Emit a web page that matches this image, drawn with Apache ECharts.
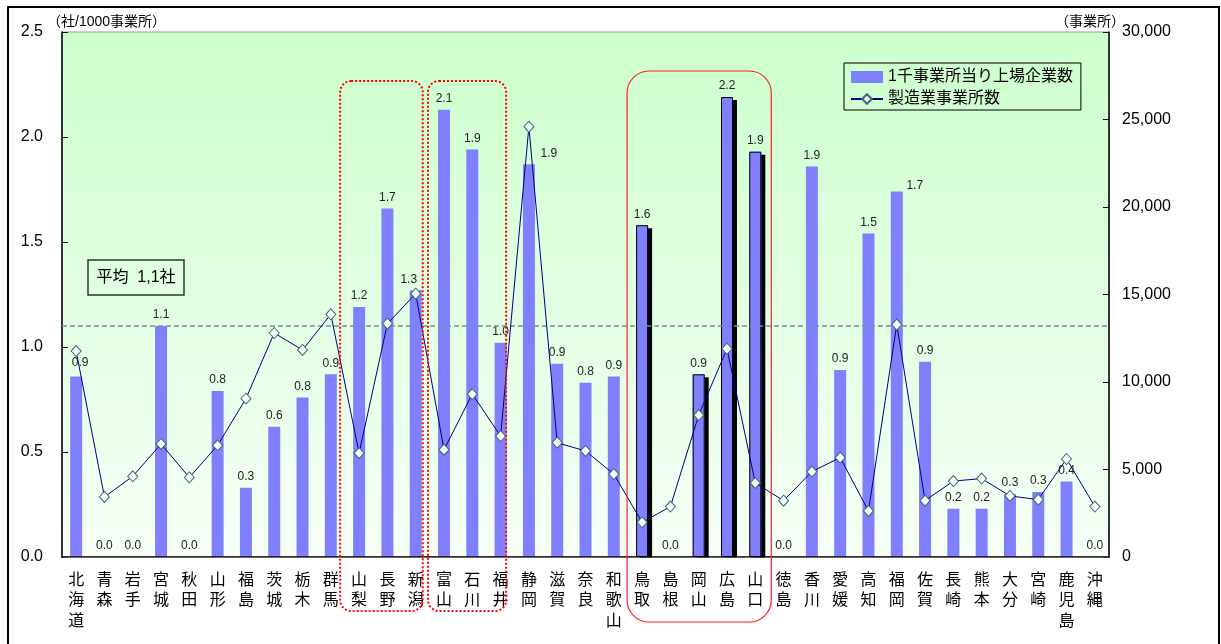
<!DOCTYPE html>
<html>
<head>
<meta charset="utf-8">
<script src="https://cdn.jsdelivr.net/npm/echarts@6/dist/echarts.min.js"></script>
<style>
  html, body { margin: 0; padding: 0; background: #fff; }
  #chart { width: 1221px; height: 644px; }
</style>
</head>
<body>
<div id="chart"></div>
<script>
// Prefectures shown along the category axis
const categories = ['北海道','青森','岩手','宮城','秋田','山形','福島','茨城','栃木','群馬',
  '山梨','長野','新潟','富山','石川','福井','静岡','滋賀','奈良','和歌山',
  '鳥取','島根','岡山','広島','山口','徳島','香川','愛媛','高知','福岡',
  '佐賀','長崎','熊本','大分','宮崎','鹿児島','沖縄'];

// Listed companies per 1,000 manufacturing establishments (left axis)
const listedPerThousand = [0.86, 0, 0, 1.10, 0, 0.79, 0.33, 0.62, 0.76, 0.87,
  1.19, 1.66, 1.27, 2.13, 1.94, 1.02, 1.87, 0.92, 0.83, 0.86,
  1.58, 0, 0.87, 2.19, 1.93, 0, 1.86, 0.89, 1.54, 1.74,
  0.93, 0.23, 0.23, 0.30, 0.31, 0.36, 0];

// Number of manufacturing establishments (right axis)
const establishments = [11770, 3430, 4610, 6460, 4550, 6380, 9050, 12800, 11830, 13870,
  5940, 13330, 15050, 6130, 9310, 6910, 24590, 6530, 6060, 4740,
  1980, 2880, 8110, 11900, 4230, 3220, 4880, 5680, 2630, 13280,
  3220, 4340, 4480, 3490, 3280, 5600, 2880];

// National average (companies per 1,000 establishments)
const averageValue = 1.1;

// Axis ticks
const leftTicks = { min: 0, max: 2.5, interval: 0.5 };
const rightTicks = { min: 0, max: 30000, interval: 5000 };

// Chugoku region bars drawn with an outline and drop shadow
const chugoku = ['鳥取','島根','岡山','広島','山口'];

// Groups enclosed by rounded frames
const hokurikuKoshin = ['山梨','新潟'];
const hokuriku = ['富山','福井'];
const chugokuRange = ['鳥取','山口'];

// Small label shifts where a label would sit on the line
const labelNudge = { '北海道': [4, -3], '新潟': [-7, 0], '静岡': [20, 0], '福岡': [18, 5] };

const BAR_NAME = '1千事業所当り上場企業数';
const LINE_NAME = '製造業事業所数';
const FONT = "'Liberation Sans', 'Noto Sans CJK JP', sans-serif";

const isChugoku = i => chugoku.includes(categories[i]);

// Main bars: Chugoku bars get a hard black drop shadow
const barData = listedPerThousand.map((v, i) => {
  const name = categories[i];
  const item = { value: v };
  if (isChugoku(i) && v > 0) {
    item.itemStyle = {
      shadowColor: '#000', shadowBlur: 0, shadowOffsetX: 4, shadowOffsetY: 3
    };
  }
  if (labelNudge[name]) item.label = { offset: labelNudge[name] };
  return item;
});

// Outline drawn over the Chugoku bars (same values, other categories empty)
const outlineData = listedPerThousand.map((v, i) => (isChugoku(i) && v > 0) ? v : '-');

const chart = echarts.init(document.getElementById('chart'), null, { renderer: 'canvas' });

chart.setOption({
  animation: false,
  textStyle: { fontFamily: FONT },
  grid: {
    left: 62, right: 112, top: 32, bottom: 87,
    show: true,
    borderColor: '#999', borderWidth: 1,
    backgroundColor: new echarts.graphic.LinearGradient(0, 0, 0, 1, [
      { offset: 0, color: '#ccffcc' },
      { offset: 1, color: '#f7fff7' }
    ])
  },
  legend: {
    data: [{ name: BAR_NAME, icon: 'rect' }, { name: LINE_NAME }],
    orient: 'vertical',
    left: 844, top: 63,
    padding: [6, 8, 3, 6],
    itemGap: 6,
    itemWidth: 32, itemHeight: 12,
    borderColor: '#000', borderWidth: 1,
    textStyle: { fontSize: 16, color: '#000', fontFamily: FONT }
  },
  xAxis: {
    type: 'category',
    data: categories,
    boundaryGap: true,
    z: 10,
    axisLine: { lineStyle: { color: '#000', width: 1.5 } },
    axisTick: { inside: true, length: 6, lineStyle: { color: '#000' } },
    axisLabel: {
      interval: 0, margin: 13,
      fontSize: 16, lineHeight: 20.5, color: '#000', fontFamily: FONT,
      formatter: name => name.split('').join('\n')
    }
  },
  yAxis: [
    {
      type: 'value',
      min: leftTicks.min, max: leftTicks.max, interval: leftTicks.interval,
      axisLine: { show: true, lineStyle: { color: '#000', width: 1.5 } },
      axisTick: { show: true, inside: true, length: 6, lineStyle: { color: '#000' } },
      splitLine: { show: false },
      axisLabel: { fontSize: 16, color: '#000', margin: 19, formatter: v => v.toFixed(1) }
    },
    {
      type: 'value',
      min: rightTicks.min, max: rightTicks.max, interval: rightTicks.interval,
      axisLine: { show: true, lineStyle: { color: '#000', width: 1.5 } },
      axisTick: { show: true, inside: true, length: 6, lineStyle: { color: '#000' } },
      splitLine: { show: false },
      axisLabel: { fontSize: 16, color: '#000', margin: 13,
        formatter: v => v.toLocaleString('en-US') }
    }
  ],
  series: [
    {
      name: BAR_NAME,
      type: 'bar',
      yAxisIndex: 0,
      barWidth: 12,
      barGap: '-100%',
      data: barData,
      itemStyle: { color: '#8080ff' },
      label: {
        show: true, position: 'top', distance: 5,
        fontSize: 12, color: '#222', fontFamily: FONT,
        formatter: p => p.value.toFixed(1)
      },
      markLine: {
        silent: true,
        symbol: 'none',
        label: { show: false },
        lineStyle: { color: '#669999', type: [5, 3], width: 1.5 },
        data: [{ yAxis: averageValue }]
      }
    },
    {
      name: 'outline',
      type: 'bar',
      yAxisIndex: 0,
      barWidth: 12,
      barGap: '-100%',
      silent: true,
      data: outlineData,
      itemStyle: { color: 'rgba(0,0,0,0)', borderColor: '#000', borderWidth: 1 },
      label: { show: false }
    },
    {
      name: LINE_NAME,
      type: 'line',
      yAxisIndex: 1,
      data: establishments,
      z: 5,
      symbol: 'diamond',
      symbolSize: [10, 11],
      showAllSymbol: true,
      lineStyle: { color: '#000080', width: 1 },
      itemStyle: { color: '#ffffff', borderColor: '#2f6f6f', borderWidth: 1 }
    }
  ]
});

// Frames around the highlighted prefecture groups, placed from the category axis
function cx(name) { return chart.convertToPixel({ xAxisIndex: 0 }, name); }

function frame(id, first, last, padL, padR, top, bottom, r, style) {
  const x0 = cx(first) - padL;
  const x1 = cx(last) + padR;
  return {
    id, type: 'rect', z: 100, silent: true,
    shape: { x: x0, y: top, width: x1 - x0, height: bottom - top, r },
    style: Object.assign({ fill: 'none' }, style)
  };
}

const dotted = { stroke: '#ff0000', lineWidth: 2, lineDash: [2, 2] };
const solid = { stroke: '#ff2020', lineWidth: 1.2 };

// The drop shadows stop at the category axis
const rect = chart.getModel().getComponent('grid').coordinateSystem.getRect();

chart.setOption({
  graphic: [
    { id: 'shadowTrim', type: 'rect', silent: true, z: 90,
      shape: { x: rect.x + 1, y: rect.y + rect.height + 0.8, width: rect.width - 2, height: 4 },
      style: { fill: '#fff' } },
    // outer chart border
    { id: 'outer', type: 'rect', silent: true, z: 100,
      shape: { x: 8, y: 7, width: 1211, height: 700 },
      style: { fill: 'none', stroke: '#000', lineWidth: 2 } },
    // axis units
    { id: 'unitL', type: 'text', silent: true, z: 100, x: 47, y: 22,
      style: { text: '（社/1000事業所）', fontSize: 14, fill: '#000', fontFamily: FONT,
        align: 'left', verticalAlign: 'middle' } },
    { id: 'unitR', type: 'text', silent: true, z: 100, x: 1090, y: 22,
      style: { text: '（事業所）', fontSize: 14, fill: '#000', fontFamily: FONT,
        align: 'center', verticalAlign: 'middle' } },
    // average note
    { id: 'avgBox', type: 'rect', silent: true, z: 100,
      shape: { x: 88, y: 260, width: 96, height: 35 },
      style: { fill: 'none', stroke: '#333', lineWidth: 1.5 } },
    { id: 'avgText', type: 'text', silent: true, z: 101, x: 136, y: 278,
      style: { text: '平均  1,1社', fontSize: 16, fill: '#000', fontFamily: FONT,
        align: 'center', verticalAlign: 'middle' } },
    frame('f1', hokurikuKoshin[0], hokurikuKoshin[1], 19, 7, 81, 611, 11, dotted),
    frame('f2', hokuriku[0], hokuriku[1], 16, 5.5, 81, 611, 11, dotted),
    frame('f3', chugokuRange[0], chugokuRange[1], 15, 16, 71, 622, 22, solid)
  ]
});
</script>
</body>
</html>
